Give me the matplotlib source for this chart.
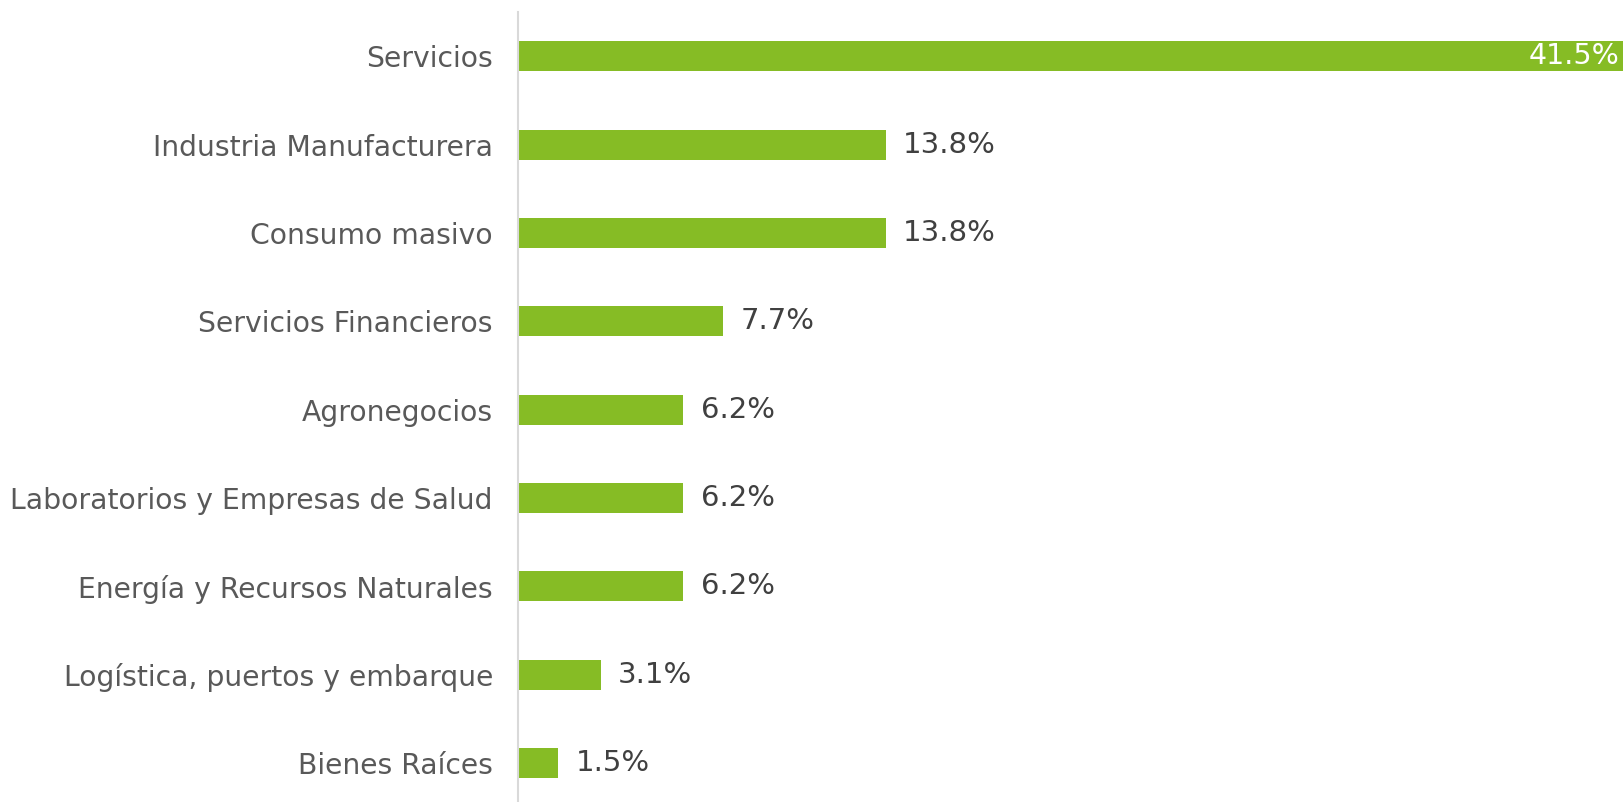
import matplotlib
matplotlib.use('Agg')
import matplotlib.pyplot as plt
import numpy as np

## data
categories = ['Servicios', 'Industria Manufacturera', 'Consumo masivo',
              'Servicios Financieros', 'Agronegocios',
              'Laboratorios y Empresas de Salud', 'Energía y Recursos Naturales',
              'Logística, puertos y embarque', 'Bienes Raíces']
values = [41.5, 13.8, 13.8, 7.7, 6.2, 6.2, 6.2, 3.1, 1.5]

plt.rcParams['font.family'] = ['DejaVu Sans']

fig = plt.figure(figsize=(16.24, 8.02), dpi=100)
ax = fig.add_axes([518/1624, 0, 1 - 518/1624, 1 - 12/802])

y = np.arange(len(categories))
ax.barh(y, values, height=0.34, color='#86BC25')
ax.set_ylim(8.44, -0.5)
ax.set_xlim(0, 41.5)

ax.set_yticks(y)
ax.set_yticklabels(categories, fontsize=20.3, color='#595959')
ax.tick_params(axis='y', length=0, pad=18)
ax.set_xticks([])

for s in ['top', 'right', 'bottom']:
    ax.spines[s].set_visible(False)
ax.spines['left'].set_color('#D9D9D9')
ax.spines['left'].set_linewidth(1.5)

## value labels
for yi, v in zip(y, values):
    if v == max(values):
        ax.annotate(f'{v:.1f}%', (v, yi), xytext=(-3, 0), textcoords='offset points',
                    ha='right', va='center', fontsize=20.5, color='white')
    else:
        ax.annotate(f'{v:.1f}%', (v, yi), xytext=(12.5, 0), textcoords='offset points',
                    ha='left', va='center', fontsize=21, color='#404040')

fig.savefig('out.png', dpi=100)
